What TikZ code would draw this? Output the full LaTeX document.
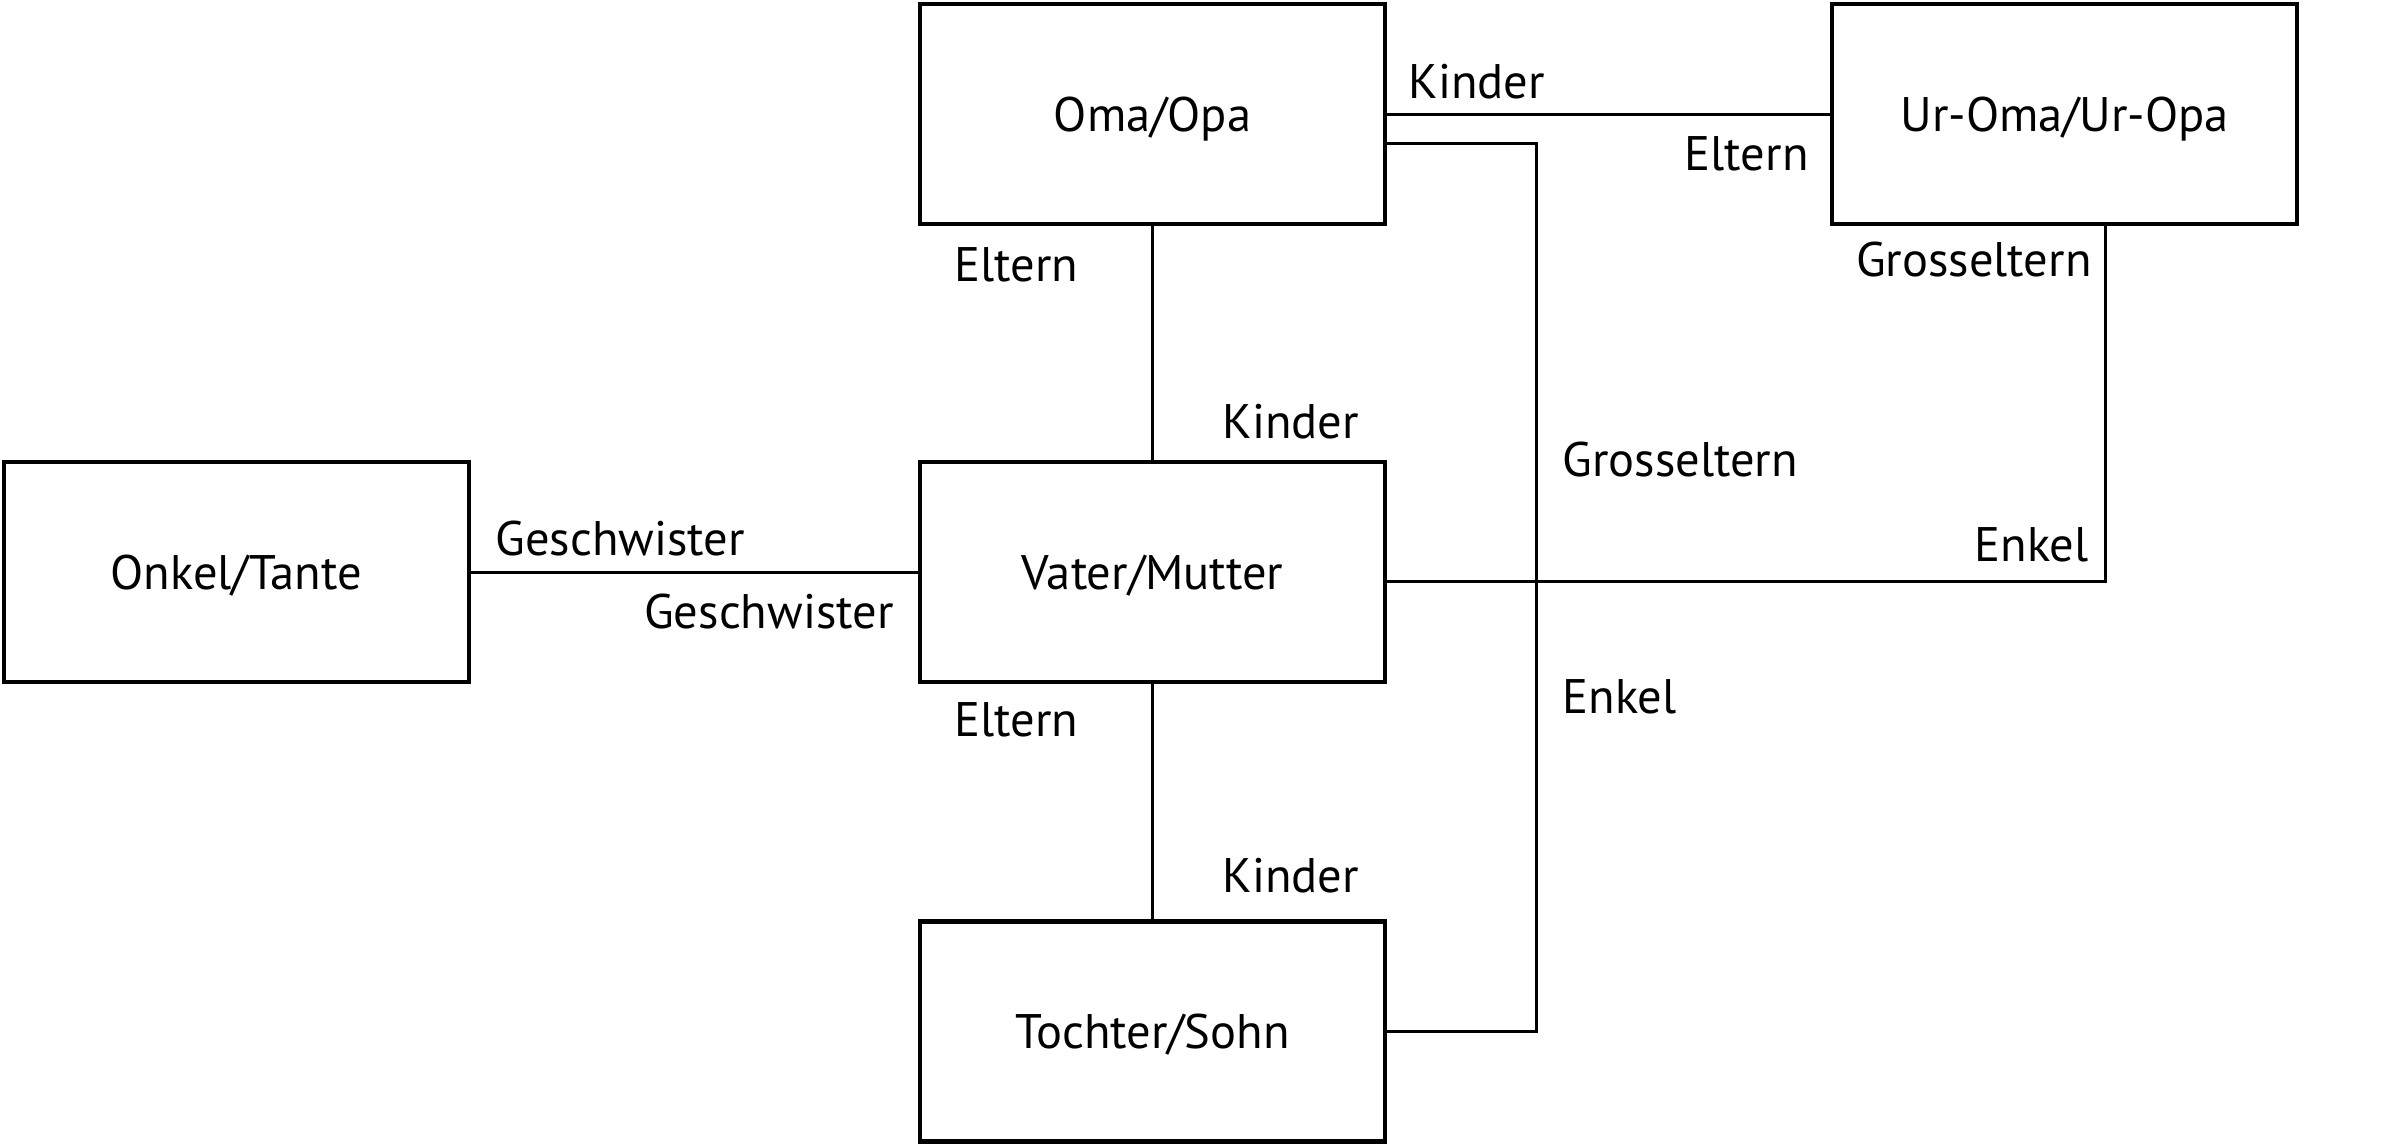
\documentclass[tikz,border=0pt]{standalone}
\usepackage{fontspec}
\setmainfont{PT Sans}
\usetikzlibrary{positioning}

\begin{document}
\begin{tikzpicture}
  [person/.style={rectangle, draw, line width=1.2pt, minimum width=4.65cm, minimum height=2.2cm, text depth=0pt, font=\fontsize{13.8}{16}\selectfont},
   rel/.style={inner sep=0pt, font=\fontsize{13.8}{16}\selectfont},
   every path/.style={line width=0.85pt}]
  \useasboundingbox (0,0) rectangle (23.83,-11.45);
  \node (oma) [person] at (11.525,-1.14) {Oma/Opa};
  \node (vm) [person, below=2.34cm of oma] {Vater/Mutter};
  \node (kind) [person, below=2.35cm of vm] {Tochter/Sohn};
  \node (onkel) [person, left=4.47cm of vm] {Onkel/Tante};
  \node (uroma) [person, right=4.43cm of oma] {Ur-Oma/Ur-Opa};

  \draw (oma) -- (vm);
  \draw (vm) -- (kind);
  \draw (onkel) -- (vm);
  \draw (oma) -- (uroma);
  \draw ([yshift=-2.9mm]oma.east) -- ++(1.49,0) |- (kind.east);
  \draw ([yshift=-0.9mm]vm.east) -| ([xshift=4.1mm]uroma.south);

  \node (k1) [rel, anchor=base west] at (14.07,-0.98) {Kinder};
  \node (e1) [rel, anchor=base east] at (18.10,-1.70) {Eltern};
  \node (e2) [rel, anchor=base west] at (9.53,-2.81) {Eltern};
  \node (k2) [rel, anchor=base west] at (12.21,-4.38) {Kinder};
  \node (e3) [rel, anchor=base west] at (9.53,-7.36) {Eltern};
  \node (k3) [rel, anchor=base west] at (12.21,-8.92) {Kinder};
  \node (g1) [rel, anchor=base west] at (4.94,-5.55) {Geschwister};
  \node (g2) [rel, anchor=base east] at (8.95,-6.28) {Geschwister};
  \node (gr1) [rel, anchor=base west] at (15.61,-4.76) {Grosseltern};
  \node (en1) [rel, anchor=base west] at (15.61,-7.13) {Enkel};
  \node (gr2) [rel, anchor=base east] at (20.93,-2.76) {Grosseltern};
  \node (en2) [rel, anchor=base east] at (20.90,-5.61) {Enkel};
\end{tikzpicture}
\end{document}
